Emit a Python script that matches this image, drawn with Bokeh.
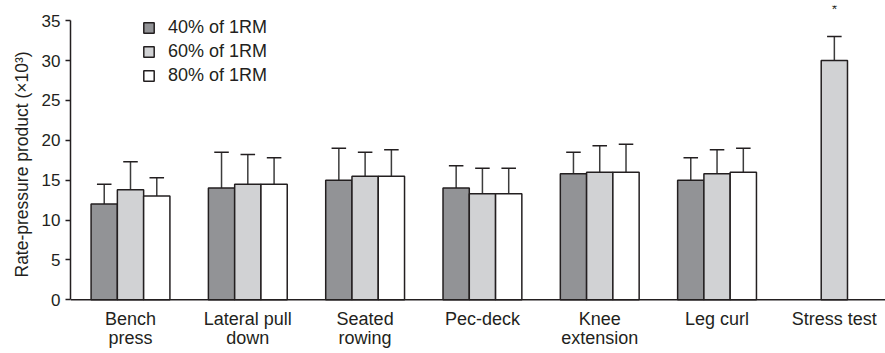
from bokeh.plotting import figure
from bokeh.models import Range1d, FixedTicker, Span, Title
from bokeh.core.properties import value
from bokeh.embed import file_html
from bokeh.resources import INLINE

# Exercises and mean rate-pressure product (x10^3) with upper SD
exercises = ["Bench\npress", "Lateral pull\ndown", "Seated\nrowing", "Pec-deck",
             "Knee\nextension", "Leg curl", "Stress test"]
rpp_40 = [12.0, 14.0, 15.0, 14.0, 15.8, 15.0, None]
rpp_60 = [13.8, 14.5, 15.5, 13.3, 16.0, 15.8, 30.0]
rpp_80 = [13.0, 14.5, 15.5, 13.3, 16.0, 16.0, None]
err_40 = [14.5, 18.5, 19.0, 16.8, 18.5, 17.8, None]
err_60 = [17.3, 18.2, 18.5, 16.5, 19.3, 18.8, 33.0]
err_80 = [15.3, 17.8, 18.8, 16.5, 19.5, 19.0, None]
series_names = ["40% of 1RM", "60% of 1RM", "80% of 1RM"]
y_ticks = [0, 5, 10, 15, 20, 25, 30, 35]
y_title = "Rate-pressure product (\u00d710\u00b3)"
significance = {"Stress test": "*"}

FONT = "Liberation Sans"
INK = "#231f20"
fills = ["#929396", "#d1d2d4", "#ffffff"]
bar_w = 0.224
offsets = [-bar_w, 0.0, bar_w]
cap_half = 0.062

# the frame reaches the bottom edge so the category names can sit below zero
p = figure(width=885, height=353, output_backend="svg", toolbar_location=None,
           x_range=Range1d(-0.5115, 6.436), y_range=Range1d(-6.74, 36.9),
           min_border_left=70, min_border_right=0, min_border_top=5,
           min_border_bottom=0)
p.outline_line_color = None
p.grid.visible = False
p.background_fill_color = "white"
p.xaxis.visible = False

for means, errs, fill, off, name in zip([rpp_40, rpp_60, rpp_80],
                                        [err_40, err_60, err_80],
                                        fills, offsets, series_names):
    xs = [i + off for i, v in enumerate(means) if v is not None]
    tops = [v for v in means if v is not None]
    ups = [e for e in errs if e is not None]
    # error bars drawn first so the bar outline sits on top at the base
    p.segment(x0=xs, y0=tops, x1=xs, y1=ups, line_color="#3c3c3c", line_width=1.5)
    p.segment(x0=[x - cap_half for x in xs], y0=ups,
              x1=[x + cap_half for x in xs], y1=ups,
              line_color=INK, line_width=1.5)
    p.vbar(x=xs, top=tops, bottom=0, width=bar_w, fill_color=fill,
           line_color=INK, line_width=1.5, legend_label=name)

# baseline of the category axis
p.add_layout(Span(location=0, dimension="width", line_color=INK, line_width=1.5))

# category names in two lines below the baseline
cat_x = list(range(len(exercises)))
line1 = [e.split("\n")[0] for e in exercises]
line2 = [e.split("\n")[1] if "\n" in e else "" for e in exercises]
for yv, texts in ((-2.47, line1), (-4.79, line2)):
    p.text(x=cat_x, y=[yv] * len(cat_x), text=texts, text_font=value(FONT),
           text_font_size="18px", text_color=INK, text_align="center",
           text_baseline="alphabetic")

# significance marker above the stress test bar
star_idx = [exercises.index(k) for k in significance]
p.text(x=star_idx, y=[err_60[i] + 3.4 for i in star_idx],
       text=list(significance.values()), text_font=value(FONT),
       text_font_size="14px", text_align="center", text_baseline="middle",
       text_color=INK)

# y axis
ya = p.yaxis[0]
ya.ticker = FixedTicker(ticks=y_ticks)
ya.bounds = (0, 35)
ya.minor_tick_line_color = None
ya.major_tick_out = 5
ya.major_tick_in = 0
ya.major_tick_line_color = INK
ya.major_tick_line_width = 1.5
ya.axis_line_color = INK
ya.axis_line_width = 1.5
ya.major_label_text_font = FONT
ya.major_label_text_font_size = "17px"
ya.major_label_text_color = INK
ya.major_label_standoff = 5

# y title measured up from the bottom of the frame so it sits beside the 0-35 span
p.add_layout(Title(text=y_title, align="left", offset=76, text_font=FONT,
                   text_font_size="17.5px", text_font_style="normal",
                   text_color=INK, standoff=14), "left")

lg = p.legend[0]
lg.location = (72, 267)
lg.border_line_color = None
lg.background_fill_alpha = 0
lg.padding = 0
lg.margin = 0
lg.spacing = 3
lg.glyph_width = 13
lg.glyph_height = 13
lg.label_height = 20
lg.label_standoff = 13
lg.label_text_font = FONT
lg.label_text_font_size = "18px"
lg.label_text_color = INK

open("out.html", "w").write(file_html(p, INLINE))
